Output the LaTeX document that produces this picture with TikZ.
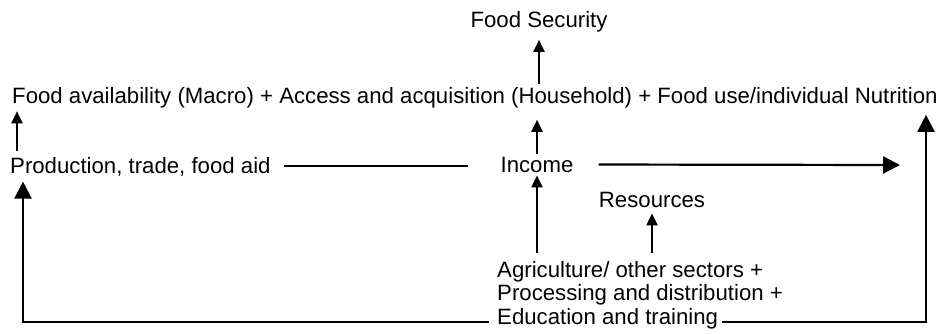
\documentclass[tikz,border=0pt]{standalone}
\usepackage{fontspec}
\setmainfont{Liberation Sans}
\usepackage{tikz}
\usetikzlibrary{arrows.meta,positioning}

\tikzset{
    lbl/.style={inner sep=0pt, anchor=base west, font=\fontsize{22.2}{24}\selectfont},
    flow/.style={line width=2.2pt},
    tipsmall/.style={flow, -{Triangle[length=12pt,width=11pt]}},
    tipbig/.style={flow, -{Triangle[length=17pt,width=17pt]}},
}

\begin{document}
\begin{tikzpicture}[x=1pt,y=-1pt]
    \useasboundingbox (0,0) rectangle (941,333);
    % Draw the texts
    \node[lbl, anchor=base] (fsec) at (539,27) {Food Security};
    \node[lbl] (pillars) at (12,103) {Food availability (Macro) + Access and acquisition (Household) + Food use/individual Nutrition};
    \node[lbl] (prod) at (10,173) {Production, trade, food aid};
    \node[lbl, anchor=base] (inc) at (537,172) {Income};
    \node[lbl, anchor=base] (res) at (652,207) {Resources};
    \node[lbl] (agri) at (497,277) {Agriculture/ other sectors +};
    \node[lbl] (proc) at (497,300) {Processing and distribution +};
    \node[lbl] (edu) at (497,324) {Education and training};
    % Corners of the outer loop
    \coordinate (lcorner) at (23,322);
    \coordinate (rcorner) at (926,322);
    \coordinate (incend) at (900,165);
    % Draw the upward arrows
    \draw[tipsmall, shorten <=3pt, shorten >=8pt] (pillars.north -| fsec.south) -- (fsec.south);
    \draw[tipsmall, shorten <=3pt, shorten >=12pt] (inc.north) -- (inc.north |- pillars.south);
    \draw[tipsmall, shorten <=6pt, shorten >=3.5pt] ([xshift=7pt]prod.north west)
        -- ([xshift=7pt]prod.north west |- pillars.south);
    \draw[tipsmall, shorten <=8pt, shorten >=3pt] (agri.north -| inc.south) -- (inc.south);
    \draw[tipsmall, shorten <=8pt, shorten >=6pt] (agri.north -| res.south) -- (res.south);
    % Draw the horizontal links from Income
    \draw[flow, shorten <=13pt, shorten >=32pt] (prod.east) -- (prod.east -| inc.west);
    \draw[tipbig, shorten <=25pt] (inc.east) -- (incend);
    % Draw the outer loop from Education and training
    \draw[tipbig, shorten <=4pt, shorten >=7pt] (edu.east |- rcorner) -- (rcorner) -- (rcorner |- pillars.south);
    \draw[tipbig, shorten <=8pt, shorten >=5.5pt] (edu.west |- lcorner) -- (lcorner) -- (prod.south -| lcorner);
\end{tikzpicture}
\end{document}
